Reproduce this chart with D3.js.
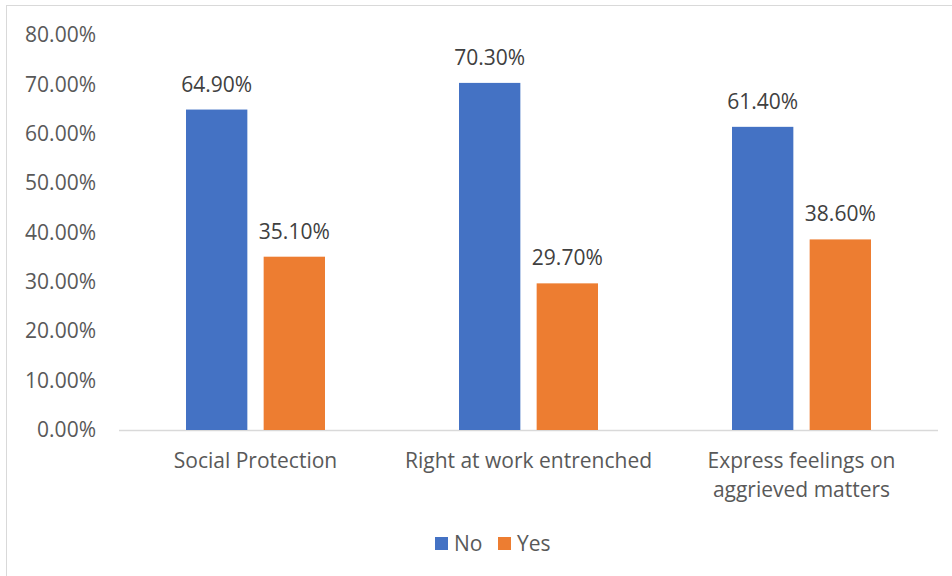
<!DOCTYPE html>
<html>
<head>
<meta charset="utf-8">
<script src="https://cdn.jsdelivr.net/npm/d3@7"></script>
<style>
  html, body { margin: 0; padding: 0; background: #fff; }
  svg { display: block; font-family: "Open Sans", sans-serif; }
</style>
</head>
<body>
<svg id="chart" width="952" height="576"></svg>
<script>
// Survey responses per workplace right
const categories = ["Social Protection", "Right at work entrenched", "Express feelings on aggrieved matters"];
const categoryLines = [["Social Protection"], ["Right at work entrenched"], ["Express feelings on", "aggrieved matters"]];
const seriesNames = ["No", "Yes"];
const noValues = [64.9, 70.3, 61.4];
const yesValues = [35.1, 29.7, 38.6];
const yTicks = [0, 10, 20, 30, 40, 50, 60, 70, 80];
const colors = ["#4472C4", "#ED7D31"];

const svg = d3.select("#chart");
const fontSize = "21px";

// chart frame
svg.append("rect")
  .attr("x", 6.5).attr("y", 5.5)
  .attr("width", 1000).attr("height", 600)
  .attr("fill", "none").attr("stroke", "#D9D9D9").attr("stroke-width", 1);

const y = d3.scaleLinear().domain([0, 80]).range([430, 35]);
const x0 = d3.scaleBand().domain(categories).range([119, 938]);
// bar pair inside each category band
const x1 = d3.scaleBand().domain(seriesNames).range([0, 139]).paddingInner(0.21);

// y axis labels only
const yAxis = svg.append("g")
  .attr("transform", "translate(96,0)")
  .call(d3.axisLeft(y).tickValues(yTicks).tickSize(0).tickPadding(0)
    .tickFormat(d => d.toFixed(2) + "%"));
yAxis.select(".domain").remove();
yAxis.selectAll("text")
  .attr("fill", "#595959")
  .style("font-size", fontSize)
  .style("font-family", "'Open Sans', sans-serif");

// baseline
svg.append("line")
  .attr("x1", x0.range()[0]).attr("x2", x0.range()[1])
  .attr("y1", y(0) + 0.5).attr("y2", y(0) + 0.5)
  .attr("stroke", "#D9D9D9").attr("stroke-width", 1.5);

const rows = categories.map((c, i) => ({
  cat: c,
  vals: [
    { key: "No", value: noValues[i] },
    { key: "Yes", value: yesValues[i] }
  ]
}));

const groups = svg.append("g").selectAll("g")
  .data(rows)
  .join("g")
  .attr("transform", d => `translate(${x0(d.cat) + (x0.bandwidth() - 139) / 2},0)`);

groups.selectAll("rect")
  .data(d => d.vals)
  .join("rect")
  .attr("x", d => x1(d.key))
  .attr("width", x1.bandwidth())
  .attr("y", d => y(d.value))
  .attr("height", d => y(0) - y(d.value))
  .attr("fill", (d, i) => colors[i]);

groups.selectAll("text.val")
  .data(d => d.vals)
  .join("text")
  .attr("class", "val")
  .attr("x", d => x1(d.key) + x1.bandwidth() / 2)
  .attr("y", d => y(d.value) - 18)
  .attr("text-anchor", "middle")
  .attr("fill", "#404040")
  .style("font-size", fontSize)
  .text(d => d.value.toFixed(2) + "%");

// category labels
categories.forEach((c, i) => {
  const cx = x0(c) + x0.bandwidth() / 2;
  const t = svg.append("text")
    .attr("text-anchor", "middle")
    .attr("fill", "#595959")
    .style("font-size", fontSize)
    .attr("x", cx)
    .attr("y", 468);
  categoryLines[i].forEach((line, j) => {
    t.append("tspan")
      .attr("x", cx)
      .attr("dy", j === 0 ? 0 : 28.5)
      .text(line);
  });
});

// legend
const legendX = [435, 498];
const legend = svg.append("g");
seriesNames.forEach((s, i) => {
  legend.append("rect")
    .attr("x", legendX[i]).attr("y", 537)
    .attr("width", 13).attr("height", 13)
    .attr("fill", colors[i]);
  legend.append("text")
    .attr("x", legendX[i] + 19).attr("y", 550.5)
    .attr("fill", "#595959")
    .style("font-size", fontSize)
    .text(s);
});
</script>
</body>
</html>
